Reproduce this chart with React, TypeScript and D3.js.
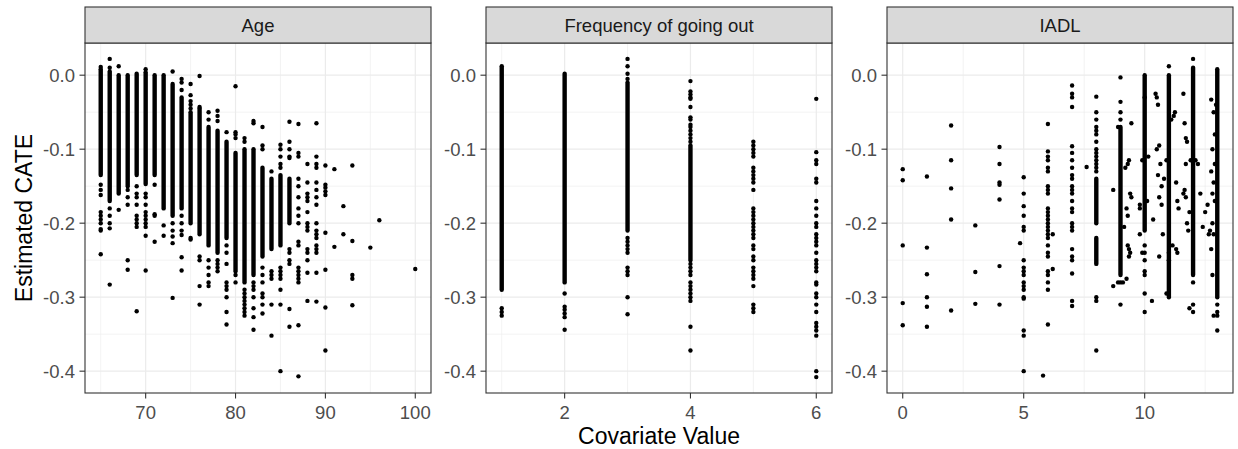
import React from "react";
import * as d3 from "d3";

// ---- data ----
// dense runs: [x, top, bottom], scattered points: [x, [y...]]
type Run = [number, number, number];
type Col = [number, number[]];

const panelTitles = ["Age", "Frequency of going out", "IADL"];
const yTicks = [0.0, -0.1, -0.2, -0.3, -0.4];

const ageRuns: Run[] = [
  [65, 0.008, -0.135], [66, 0.005, -0.17], [67, 0.0, -0.16], [68, 0.0, -0.15],
  [69, 0.002, -0.135], [70, 0.004, -0.147], [71, 0.0, -0.135], [72, 0.0, -0.18],
  [73, -0.012, -0.19], [74, -0.03, -0.18], [75, -0.05, -0.2], [76, -0.045, -0.215],
  [77, -0.07, -0.23], [78, -0.075, -0.24], [79, -0.09, -0.22], [80, -0.105, -0.265],
  [81, -0.1, -0.28], [82, -0.1, -0.27], [83, -0.125, -0.245], [84, -0.14, -0.235],
  [85, -0.135, -0.23], [86, -0.14, -0.2],
];
const agePoints: Col[] = [
  [65, [0.011, -0.148, -0.155, -0.162, -0.185, -0.19, -0.195, -0.2, -0.208, -0.21, -0.242]],
  [66, [0.022, 0.01, -0.18, -0.19, -0.2, -0.207, -0.283]],
  [67, [0.012, -0.182]],
  [68, [-0.155, -0.165, -0.175, -0.25, -0.263]],
  [69, [-0.15, -0.16, -0.165, -0.175, -0.19, -0.195, -0.2, -0.205, -0.319]],
  [70, [0.008, -0.16, -0.165, -0.175, -0.185, -0.19, -0.195, -0.2, -0.205, -0.217, -0.264]],
  [71, [-0.148, -0.188, -0.19, -0.225]],
  [72, [-0.203, -0.217]],
  [73, [0.005, -0.2, -0.21, -0.218, -0.227, -0.301]],
  [74, [-0.005, -0.01, -0.02, -0.19, -0.2, -0.21, -0.216, -0.246, -0.264]],
  [75, [-0.012, -0.027, -0.035, -0.04, -0.045, -0.22, -0.222]],
  [76, [-0.001, -0.043, -0.245, -0.25, -0.285, -0.31]],
  [77, [-0.05, -0.06, -0.25, -0.26, -0.27, -0.28, -0.285]],
  [78, [-0.048, -0.055, -0.062, -0.25, -0.255, -0.26, -0.265]],
  [79, [-0.077, -0.23, -0.24, -0.255, -0.28, -0.285, -0.29, -0.3, -0.32, -0.337]],
  [80, [-0.015, -0.077, -0.08, -0.085, -0.27, -0.28]],
  [81, [-0.085, -0.09, -0.29, -0.295, -0.3, -0.305, -0.31, -0.315, -0.32, -0.325]],
  [82, [-0.062, -0.065, -0.28, -0.285, -0.29, -0.3, -0.315, -0.327, -0.344]],
  [83, [-0.07, -0.095, -0.1, -0.26, -0.27, -0.28, -0.295, -0.3, -0.31, -0.322]],
  [84, [-0.13, -0.265, -0.27, -0.275, -0.31, -0.352]],
  [85, [-0.094, -0.1, -0.11, -0.12, -0.125, -0.26, -0.265, -0.27, -0.275, -0.29, -0.31, -0.4]],
  [86, [-0.063, -0.09, -0.1, -0.11, -0.112, -0.235, -0.24, -0.25, -0.255, -0.316, -0.34]],
  [87, [-0.066, -0.105, -0.11, -0.14, -0.15, -0.165, -0.18, -0.19, -0.2, -0.225, -0.23, -0.26, -0.265, -0.27, -0.275, -0.28, -0.338, -0.407]],
  [88, [-0.12, -0.145, -0.16, -0.165, -0.17, -0.185, -0.2, -0.205, -0.21, -0.235, -0.24, -0.25, -0.267, -0.305]],
  [89, [-0.065, -0.11, -0.12, -0.125, -0.145, -0.155, -0.165, -0.175, -0.2, -0.21, -0.215, -0.22, -0.23, -0.235, -0.24, -0.267, -0.306]],
  [90, [-0.122, -0.148, -0.152, -0.157, -0.162, -0.213, -0.263, -0.314, -0.372]],
  [91, [-0.127, -0.232]],
  [92, [-0.177, -0.215]],
  [93, [-0.122, -0.224, -0.27, -0.275, -0.311]],
  [95, [-0.233]],
  [96, [-0.196]],
  [100, [-0.262]],
];

const outRuns: Run[] = [
  [1, 0.012, -0.29], [2, 0.002, -0.28], [3, -0.01, -0.21], [4, -0.095, -0.25],
];
const outPoints: Col[] = [
  [1, [-0.315, -0.32, -0.325]],
  [2, [-0.295, -0.313, -0.317, -0.322, -0.327, -0.344]],
  [3, [0.022, 0.012, 0.002, -0.005, -0.22, -0.225, -0.23, -0.235, -0.24, -0.26, -0.265, -0.27, -0.3, -0.323]],
  [4, [-0.008, -0.022, -0.026, -0.03, -0.032, -0.043, -0.057, -0.06, -0.067, -0.07, -0.075, -0.08, -0.085, -0.09,
    -0.255, -0.26, -0.265, -0.27, -0.28, -0.285, -0.29, -0.295, -0.3, -0.305, -0.34, -0.372]],
  [5, [-0.09, -0.095, -0.1, -0.105, -0.11, -0.125, -0.13, -0.135, -0.14, -0.145, -0.155, -0.18, -0.185, -0.19, -0.195,
    -0.2, -0.205, -0.21, -0.215, -0.22, -0.23, -0.235, -0.245, -0.25, -0.26, -0.265, -0.27, -0.275, -0.285, -0.31, -0.315, -0.32]],
  [6, [-0.032, -0.104, -0.115, -0.12, -0.14, -0.145, -0.17, -0.18, -0.19, -0.2, -0.205, -0.215, -0.22, -0.225, -0.23,
    -0.24, -0.25, -0.255, -0.26, -0.265, -0.28, -0.283, -0.295, -0.3, -0.31, -0.32, -0.335, -0.34, -0.345, -0.352, -0.4, -0.408]],
];

const iadlRuns: Run[] = [
  [8, -0.14, -0.2], [8, -0.22, -0.255], [9, -0.07, -0.27], [10, 0.0, -0.21],
  [11, 0.0, -0.3], [12, 0.01, -0.27], [13, 0.008, -0.3],
];
const iadlPoints: Col[] = [
  [0, [-0.127, -0.142, -0.23, -0.308, -0.338]],
  [1, [-0.137, -0.233, -0.269, -0.3, -0.313, -0.34]],
  [2, [-0.068, -0.115, -0.153, -0.195, -0.318]],
  [3, [-0.203, -0.266, -0.309]],
  [4, [-0.097, -0.12, -0.145, -0.148, -0.168, -0.258, -0.31]],
  [4.85, [-0.227]],
  [5, [-0.138, -0.16, -0.177, -0.19, -0.205, -0.21, -0.25, -0.26, -0.265, -0.27, -0.28, -0.285, -0.29, -0.3, -0.302, -0.345, -0.352, -0.4]],
  [5.8, [-0.406]],
  [6, [-0.066, -0.103, -0.11, -0.115, -0.125, -0.13, -0.15, -0.155, -0.16, -0.18, -0.185, -0.19, -0.195, -0.2, -0.205,
    -0.21, -0.215, -0.22, -0.23, -0.24, -0.245, -0.265, -0.27, -0.28, -0.29, -0.337]],
  [6.2, [-0.215, -0.262]],
  [7, [-0.014, -0.025, -0.03, -0.043, -0.096, -0.105, -0.115, -0.125, -0.135, -0.14, -0.15, -0.155, -0.16, -0.17,
    -0.18, -0.185, -0.2, -0.205, -0.21, -0.235, -0.245, -0.25, -0.268, -0.305, -0.312]],
  [7.6, [-0.124]],
  [8, [-0.029, -0.05, -0.06, -0.07, -0.075, -0.08, -0.09, -0.1, -0.105, -0.11, -0.115, -0.12, -0.125, -0.13, -0.3, -0.305, -0.372]],
  [8.7, [-0.155, -0.285]],
  [8.9, [-0.07, -0.28]],
  [9, [-0.003, -0.036, -0.05, -0.06, -0.28, -0.31]],
  [9.1, [-0.28]], [9.15, [-0.205]], [9.2, [-0.125]], [9.25, [-0.275, -0.18]],
  [9.3, [-0.12, -0.23, -0.19]], [9.35, [-0.115, -0.235, -0.245]], [9.4, [-0.24, -0.16]], [9.45, [-0.065, -0.165]],
  [9.8, [-0.215, -0.175, -0.18]],
  [9.9, [-0.115, -0.24]],
  [10, [-0.03, -0.23, -0.24, -0.25, -0.265, -0.27, -0.295, -0.32]],
  [10.1, [-0.17]], [10.15, [-0.11]], [10.3, [-0.305]], [10.35, [-0.195]],
  [10.45, [-0.025]], [10.5, [-0.03, -0.1]], [10.55, [-0.04, -0.135]], [10.6, [-0.095, -0.245, -0.165]],
  [10.65, [-0.12]], [10.7, [-0.15, -0.175]], [10.75, [-0.215]], [10.8, [-0.14]], [10.9, [-0.115, -0.295]],
  [11, [0.012, -0.24, -0.25]],
  [11.1, [-0.06]], [11.15, [-0.23]], [11.2, [-0.055]], [11.25, [-0.05]], [11.3, [-0.235, -0.145]],
  [11.35, [-0.24, -0.17]], [11.4, [-0.18]], [11.6, [-0.025, -0.16]], [11.65, [-0.065, -0.155]],
  [11.7, [-0.085, -0.165, -0.12]], [11.75, [-0.09, -0.2]], [11.8, [-0.21]], [11.85, [-0.185, -0.315]], [11.9, [-0.115]],
  [12, [0.022, -0.28, -0.31, -0.32]],
  [12.1, [-0.115]], [12.2, [-0.12]], [12.3, [-0.16]], [12.4, [-0.205]], [12.5, [-0.185]], [12.6, [-0.175]],
  [12.65, [-0.215]], [12.7, [-0.21]], [12.75, [-0.033, -0.13, -0.235]], [12.8, [-0.2, -0.1, -0.16, -0.27]],
  [12.85, [-0.215, -0.05, -0.145, -0.325]], [12.9, [-0.12, -0.08, -0.17]], [12.95, [-0.04]],
  [13, [-0.31, -0.32, -0.325, -0.345]],
];

const panels = [
  { title: panelTitles[0], runs: ageRuns, points: agePoints, ticks: [70, 80, 90, 100], minor: [65, 75, 85, 95] },
  { title: panelTitles[1], runs: outRuns, points: outPoints, ticks: [2, 4, 6], minor: [1, 3, 5] },
  { title: panelTitles[2], runs: iadlRuns, points: iadlPoints, ticks: [0, 5, 10], minor: [2.5, 7.5, 12.5] },
];

// ---- layout ----
const W = 1238, H = 449;
const panelLeft = [85, 486, 887];
const panelW = 346;
const top = 43, bottom = 393, stripTop = 7;
const font = "'Liberation Sans', Arial, Helvetica, sans-serif";
const R = 2.2;

function expand(ext: [number, number], m = 0.05): [number, number] {
  const d = ext[1] - ext[0];
  return [ext[0] - d * m, ext[1] + d * m];
}

const allY: number[] = [];
panels.forEach(p => {
  p.runs.forEach(r => allY.push(r[1], r[2]));
  p.points.forEach(c => c[1].forEach(v => allY.push(v)));
});
const y = d3.scaleLinear().domain(expand(d3.extent(allY) as [number, number])).range([bottom, top]);
const yMinor = [-0.05, -0.15, -0.25, -0.35];

function Panel({ p, left }: { p: typeof panels[0]; left: number }) {
  const xs: number[] = [];
  p.runs.forEach(r => xs.push(r[0]));
  p.points.forEach(c => xs.push(c[0]));
  const x = d3.scaleLinear().domain(expand(d3.extent(xs) as [number, number])).range([left, left + panelW]);
  return (
    <g>
      <rect x={left} y={top} width={panelW} height={bottom - top} fill="#fff" />
      {yMinor.map(v => (
        <line key={"ym" + v} x1={left} x2={left + panelW} y1={y(v)} y2={y(v)} stroke="#EBEBEB" strokeWidth={0.6} />
      ))}
      {p.minor.map(v => (
        <line key={"xm" + v} x1={x(v)} x2={x(v)} y1={top} y2={bottom} stroke="#EBEBEB" strokeWidth={0.6} />
      ))}
      {yTicks.map(v => (
        <line key={"yg" + v} x1={left} x2={left + panelW} y1={y(v)} y2={y(v)} stroke="#EBEBEB" strokeWidth={1.2} />
      ))}
      {p.ticks.map(v => (
        <line key={"xg" + v} x1={x(v)} x2={x(v)} y1={top} y2={bottom} stroke="#EBEBEB" strokeWidth={1.2} />
      ))}
      {p.runs.map((r, i) => (
        <line key={"r" + i} x1={x(r[0])} x2={x(r[0])} y1={y(r[1])} y2={y(r[2])}
          stroke="#000" strokeWidth={R * 2} strokeLinecap="round" />
      ))}
      {p.points.flatMap((c, i) =>
        c[1].map((v, j) => <circle key={"p" + i + "_" + j} cx={x(c[0])} cy={y(v)} r={R} fill="#000" />)
      )}
      <rect x={left} y={top} width={panelW} height={bottom - top} fill="none" stroke="#333333" strokeWidth={1.1} />
      {/* strip */}
      <rect x={left} y={stripTop} width={panelW} height={top - stripTop} fill="#D9D9D9" stroke="#333333" strokeWidth={1.1} />
      <text x={left + panelW / 2} y={31.5} textAnchor="middle" fontSize={18.5} fill="#1A1A1A" fontFamily={font}>{p.title}</text>
      {/* y axis */}
      {yTicks.map(v => (
        <g key={"yt" + v}>
          <line x1={left - 5.5} x2={left} y1={y(v)} y2={y(v)} stroke="#333333" strokeWidth={1.1} />
          <text x={left - 10} y={y(v)} dy="0.35em" textAnchor="end" fontSize={18.5} fill="#4D4D4D" fontFamily={font}>
            {d3.format(".1f")(v).replace("−", "-")}
          </text>
        </g>
      ))}
      {/* x axis */}
      {p.ticks.map(v => (
        <g key={"xt" + v}>
          <line x1={x(v)} x2={x(v)} y1={bottom} y2={bottom + 5.5} stroke="#333333" strokeWidth={1.1} />
          <text x={x(v)} y={419} textAnchor="middle" fontSize={18.5} fill="#4D4D4D" fontFamily={font}>{v}</text>
        </g>
      ))}
    </g>
  );
}

export default function App() {
  return (
    <svg width={W} height={H} style={{ display: "block", position: "absolute", left: 0, top: 0 }}>
      <rect width={W} height={H} fill="#fff" />
      {panels.map((p, i) => <Panel key={i} p={p} left={panelLeft[i]} />)}
      <text x={(panelLeft[0] + panelLeft[2] + panelW) / 2} y={444} textAnchor="middle" fontSize={23} fill="#000" fontFamily={font}>
        Covariate Value
      </text>
      <text transform={`translate(32,${(top + bottom) / 2}) rotate(-90)`} textAnchor="middle" fontSize={23} fill="#000" fontFamily={font}>
        Estimated CATE
      </text>
    </svg>
  );
}
